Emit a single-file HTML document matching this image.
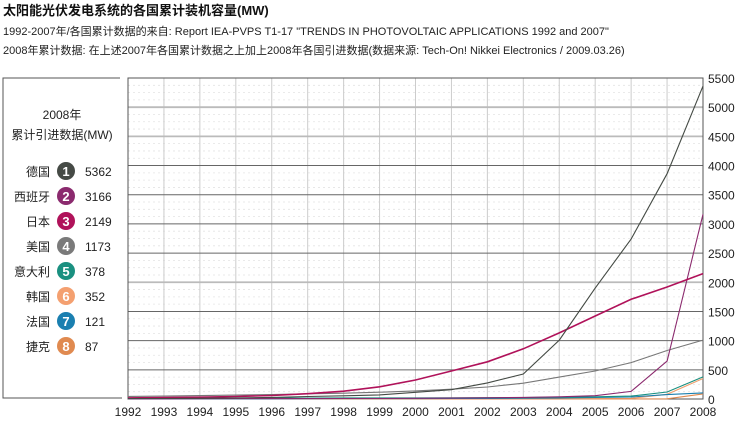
<!DOCTYPE html>
<html><head><meta charset="utf-8"><style>
body{margin:0;background:#fff;width:738px;height:420px;overflow:hidden;font-family:"Liberation Sans","Noto Sans CJK SC",sans-serif;}
svg text{font-family:"Liberation Sans","Noto Sans CJK SC",sans-serif;}
</style></head><body>
<svg id="s" width="738" height="420" xmlns="http://www.w3.org/2000/svg">
<text x="3" y="15" font-size="13" font-weight="bold" fill="#111">太阳能光伏发电系统的各国累计装机容量(MW)</text>
<text x="3" y="35" font-size="11" fill="#222">1992-2007年/各国累计数据的来自: Report IEA-PVPS T1-17 "TRENDS  IN PHOTOVOLTAIC APPLICATIONS 1992 and 2007"</text>
<text x="3" y="54" font-size="11" fill="#222">2008年累计数据: 在上述2007年各国累计数据之上加上2008年各国引进数据(数据来源: Tech-On! Nikkei Electronics / 2009.03.26)</text>
<polyline points="120,78 3,78 3,398 122,398" fill="none" stroke="#555" stroke-width="1"/>
<text x="62" y="119" font-size="12" text-anchor="middle" fill="#222">2008年</text>
<text x="62" y="139" font-size="12" text-anchor="middle" fill="#222">累计引进数据(MW)</text>
<g id="leg"></g>
<g id="grid"></g>
<g id="lines"></g>
</svg>
<script>
var ns="http://www.w3.org/2000/svg",s=document.getElementById('s');
function el(t,a,txt,p){var e=document.createElementNS(ns,t);for(var k in a)e.setAttribute(k,a[k]);if(txt!=null)e.textContent=txt;(p||s).appendChild(e);return e;}
var X0=128,DX=(703-128)/16,Y0=399,K=(399-78)/5500;
function X(i){return X0+i*DX}function Y(v){return Y0-v*K}
var g=document.getElementById('grid');
for(var v=125;v<5500;v+=125){if(v%500)el('line',{x1:128,x2:703,y1:Y(v),y2:Y(v),stroke:'#e4e4e4','stroke-dasharray':'2,3','stroke-width':0.8},null,g);}
for(var i=1;i<16;i++)el('line',{x1:X(i),x2:X(i),y1:78,y2:399,stroke:'#ccc','stroke-width':1},null,g);
for(var v=500;v<5500;v+=500){var light=(v==5000||v==4500||v==2000);el('line',{x1:128,x2:703,y1:Y(v),y2:Y(v),stroke:light?'#bbb':'#666','stroke-width':light?1.8:1},null,g);}
el('rect',{x:128,y:78,width:575,height:321,fill:'none',stroke:'#555','stroke-width':1},null,g);
for(var v=0;v<=5500;v+=500)el('text',{x:708,y:Y(v)+5,'font-size':12,fill:'#222'},String(v),g);
for(var i=0;i<=16;i++)el('text',{x:X(i),y:416,'font-size':12,'text-anchor':'middle',fill:'#222'},String(1992+i),g);
var D=[
['#f0a070',[0,0,0,0,0,0,0,0,0,1,2,3,4,5,10,80,352]],
['#e08a50',[0,0,0,0,0,0,0,0,0,0,0,0,0,1,1,4,87]],
['#1a7fb0',[2,2,3,3,4,5,6,7,7,8,10,13,19,26,34,75,105]],
['#1a9080',[8,12,14,16,16,17,18,18,19,20,22,26,31,38,50,120,378]],
['#777777',[44,50,58,67,77,89,100,117,139,168,205,270,376,479,624,831,1010]],
['#8b2a6e',[4,4,5,6,6,7,8,9,12,16,20,27,37,57,130,650,3166]],
['#b0125a',[19,24,31,43,60,91,133,209,325,480,637,860,1132,1422,1708,1919,2149]],
['#444a44',[6,9,12,18,28,42,54,70,114,160,275,428,1010,1900,2740,3860,5362]]];
var L=document.getElementById('lines');
D.forEach(function(d){var p=d[1].map(function(v,i){return X(i).toFixed(1)+','+Y(v).toFixed(1)}).join(' ');
el('polyline',{points:p,fill:'none',stroke:d[0],'stroke-width':d[0]=='#b0125a'?1.6:1.1},null,L);});
var leg=[['德国','#454a45',5362],['西班牙','#8b2a6e',3166],['日本','#b0125a',2149],['美国','#7a7a7a',1173],['意大利','#1a9080',378],['韩国','#f4a070',352],['法国','#1a7fb0',121],['捷克','#e08a50',87]];
var G=document.getElementById('leg');
leg.forEach(function(r,i){var y=171+i*25;
el('text',{x:50,y:y+5,'font-size':12,'text-anchor':'end',fill:'#222'},r[0],G);
el('circle',{cx:66,cy:y,r:9,fill:r[1]},null,G);
el('text',{x:66,y:y+5,'font-size':13,'font-weight':'bold','text-anchor':'middle',fill:'#fff'},String(i+1),G);
el('text',{x:85,y:y+5,'font-size':12,fill:'#222'},String(r[2]),G);});
</script>
</body></html>
